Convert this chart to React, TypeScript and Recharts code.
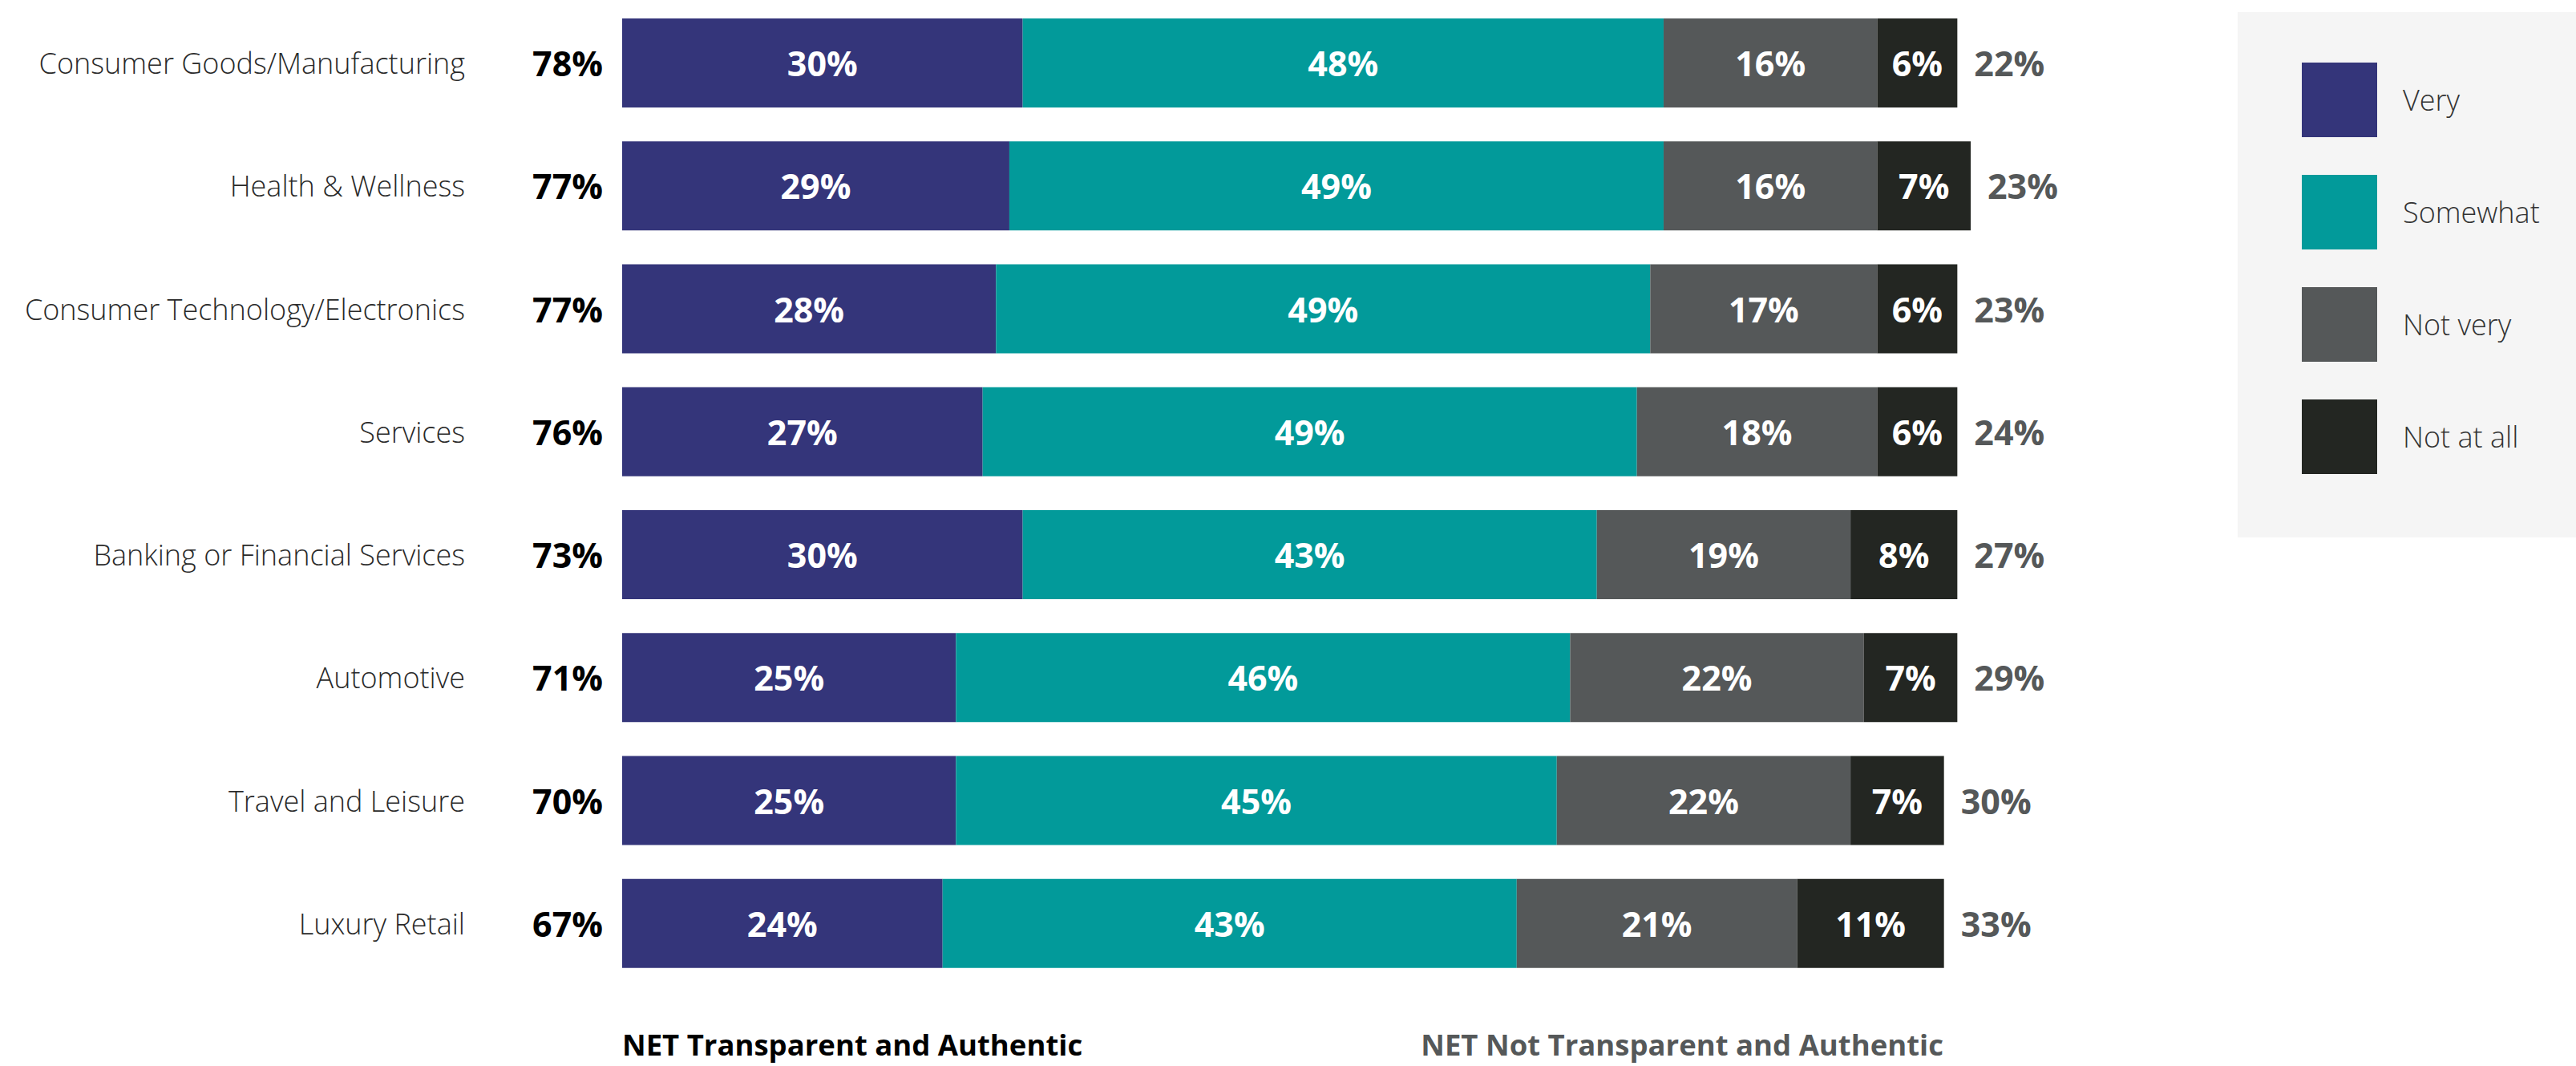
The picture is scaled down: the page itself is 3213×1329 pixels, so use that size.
import { BarChart, Bar, XAxis, YAxis, Legend, LabelList } from 'recharts';

const categories = [
  'Consumer Goods/Manufacturing',
  'Health & Wellness',
  'Consumer Technology/Electronics',
  'Services',
  'Banking or Financial Services',
  'Automotive',
  'Travel and Leisure',
  'Luxury Retail',
];
const very = [30, 29, 28, 27, 30, 25, 25, 24];
const somewhat = [48, 49, 49, 49, 43, 46, 45, 43];
const notVery = [16, 16, 17, 18, 19, 22, 22, 21];
const notAtAll = [6, 7, 6, 6, 8, 7, 7, 11];
const netTransparent = [78, 77, 77, 76, 73, 71, 70, 67];
const netNotTransparent = [22, 23, 23, 24, 27, 29, 30, 33];

const SERIES = [
  { key: 'very', name: 'Very', color: '#34357a' },
  { key: 'somewhat', name: 'Somewhat', color: '#029a9a' },
  { key: 'notVery', name: 'Not very', color: '#555859' },
  { key: 'notAtAll', name: 'Not at all', color: '#232622' },
];

const FONT = '"Open Sans", sans-serif';
const W = 3213;
const H = 1329;

const data = categories.map((name, i) => ({
  name,
  very: very[i],
  somewhat: somewhat[i],
  notVery: notVery[i],
  notAtAll: notAtAll[i],
  net: netTransparent[i],
  netNot: netNotTransparent[i],
}));

// widest row (101%) sets the x domain
const xMax = Math.max(...data.map(d => d.very + d.somewhat + d.notVery + d.notAtAll));

function CategoryTick({ y, payload, index }: any) {
  return (
    <g>
      <text x={580} y={y} textAnchor="end" dominantBaseline="central" fontFamily={FONT} fontWeight={300} fontSize={36} fill="#2a2a2a">
        {payload.value}
      </text>
      <text x={752} y={y} textAnchor="end" dominantBaseline="central" fontFamily={FONT} fontWeight={700} fontSize={43} fill="#000">
        {netTransparent[index]}%
      </text>
    </g>
  );
}

const inBarLabel = (props: any) => {
  const { x, y, width, height, value } = props;
  return (
    <text x={x + width / 2} y={y + height / 2} textAnchor="middle" dominantBaseline="central" fontFamily={FONT} fontWeight={700} fontSize={43} fill="#fff">
      {value}%
    </text>
  );
};

const netNotLabel = (props: any) => {
  const { x, y, width, height, value } = props;
  return (
    <text x={x + width + 21} y={y + height / 2} textAnchor="start" dominantBaseline="central" fontFamily={FONT} fontWeight={700} fontSize={43} fill="#555859">
      {value}%
    </text>
  );
};

function LegendBox() {
  return (
    <div style={{ width: 422, height: 655, background: '#f5f5f5', position: 'relative', fontFamily: FONT }}>
      {SERIES.map((s, i) => (
        <div key={s.key} style={{ position: 'absolute', left: 80, top: 63 + i * 140, display: 'flex', alignItems: 'center' }}>
          <div style={{ width: 94, height: 93, background: s.color }} />
          <span style={{ marginLeft: 32, fontSize: 36, fontWeight: 300, color: '#333' }}>{s.name}</span>
        </div>
      ))}
    </div>
  );
}

export default function App() {
  return (
    <div style={{ position: 'absolute', left: 0, top: 0, width: W, height: H, background: '#fff' }}>
      <BarChart
        width={W}
        height={H}
        data={data}
        layout="vertical"
        margin={{ top: 2, right: W - 776 - Math.round(16.655 * xMax), bottom: 101, left: 0 }}
      >
        <XAxis type="number" domain={[0, xMax]} hide />
        <YAxis type="category" dataKey="name" width={776} axisLine={false} tickLine={false} tick={<CategoryTick />} interval={0} />
        <Legend
          layout="vertical"
          align="center"
          verticalAlign="middle"
          wrapperStyle={{ left: 2791, top: 15, width: 422, height: 655 }}
          content={() => <LegendBox />}
        />
        {SERIES.map((s, i) => (
          <Bar key={s.key} dataKey={s.key} name={s.name} stackId="a" fill={s.color} barSize={111} isAnimationActive={false}>
            <LabelList dataKey={s.key} content={inBarLabel} />
            {i === SERIES.length - 1 && <LabelList dataKey="netNot" content={netNotLabel} />}
          </Bar>
        ))}
      </BarChart>
      <svg width={W} height={H} style={{ position: 'absolute', left: 0, top: 0, pointerEvents: 'none' }}>
        <text x={776} y={1302} dominantBaseline="central" fontFamily={FONT} fontWeight={700} fontSize={36.5} fill="#000">
          NET Transparent and Authentic
        </text>
        <text x={2424} y={1302} textAnchor="end" dominantBaseline="central" fontFamily={FONT} fontWeight={700} fontSize={36.5} fill="#555859">
          NET Not Transparent and Authentic
        </text>
      </svg>
    </div>
  );
}
